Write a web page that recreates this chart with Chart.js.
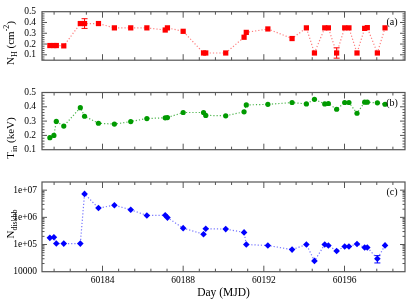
<!DOCTYPE html>
<html>
<head>
<meta charset="utf-8">
<script src="https://cdn.jsdelivr.net/npm/chart.js@4.4.0/dist/chart.umd.min.js"></script>
<style>
  body { margin: 0; background: #fff; }
  #wrap { position: relative; width: 409px; height: 304px; }
  #wrap canvas { position: absolute; left: 0; top: 0; }
</style>
</head>
<body>
<div id="wrap">
  <canvas id="ca" width="409" height="304"></canvas>
  <canvas id="cb" width="409" height="304"></canvas>
  <canvas id="cc" width="409" height="304"></canvas>
</div>
<script>
// observation days (MJD), shared by all three panels
var days = [60181.39, 60181.59, 60181.71, 60182.08, 60182.90, 60183.11, 60183.80, 60184.59,
  60185.40, 60186.20, 60187.11, 60187.22, 60188.00, 60189.01, 60189.12, 60190.11,
  60191.02, 60191.13, 60192.20, 60193.40, 60194.11, 60194.51, 60195.02, 60195.20,
  60195.61, 60196.01, 60196.22, 60196.62, 60197.00, 60197.13, 60197.63, 60198.01];

// (a) column density
var nh = [0.186, 0.186, 0.186, 0.183, 0.39, 0.39, 0.39, 0.35, 0.35, 0.35, 0.33, 0.35, 0.318,
  0.117, 0.117, 0.117, 0.263, 0.308, 0.34, 0.251, 0.35, 0.117, 0.35, 0.35, 0.117, 0.35,
  0.35, 0.117, 0.345, 0.352, 0.117, 0.35];
var nhErr = [0.003, 0.003, 0.003, 0.012, 0.012, 0.045, 0.004, 0.003, 0.003, 0.003, 0.003, 0.004,
  0.003, 0.002, 0.002, 0.002, 0.004, 0.004, 0.004, 0.004, 0.003, 0.003, 0.003, 0.003, 0.048,
  0.003, 0.003, 0.002, 0.003, 0.003, 0.002, 0.003];

// (b) inner disk temperature
var tin = [0.184, 0.200, 0.298, 0.265, 0.394, 0.334, 0.285, 0.279, 0.297, 0.318, 0.323, 0.325,
  0.360, 0.360, 0.340, 0.337, 0.365, 0.413, 0.417, 0.430, 0.420, 0.452, 0.420, 0.423, 0.383,
  0.430, 0.430, 0.355, 0.432, 0.432, 0.428, 0.418];
var tinErr = [0.004, 0.012, 0.017, 0.004, 0.004, 0.004, 0.004, 0.003, 0.003, 0.003, 0.003, 0.003,
  0.004, 0.003, 0.003, 0.004, 0.004, 0.004, 0.004, 0.008, 0.004, 0.004, 0.004, 0.004, 0.004,
  0.004, 0.004, 0.004, 0.004, 0.004, 0.004, 0.004];

// (c) diskbb normalisation
var norm = [1.76e5, 1.85e5, 1.09e5, 1.08e5, 1.08e5, 7.3e6, 2.2e6, 2.8e6, 1.9e6, 1.17e6, 1.2e6,
  9.8e5, 4.0e5, 2.4e5, 3.8e5, 3.7e5, 2.8e5, 1.0e5, 9.2e4, 6.5e4, 1.0e5, 2.5e4, 1.0e5, 9.2e4,
  5.8e4, 8.5e4, 8.5e4, 1.05e5, 7.8e4, 7.8e4, 3.0e4, 9.3e4];
var normErr = [6e3, 6e3, 4e3, 4e3, 4e3, 3e5, 8e4, 1e5, 7e4, 4e4, 4e4, 4e4, 1.5e4, 9e3, 1.4e4,
  1.4e4, 1e4, 4e3, 4e3, 3e3, 4e3, 1.5e3, 4e3, 4e3, 3e3, 3e3, 3e3, 4e3, 3e3, 3e3, 9e3, 4e3];

var dayTicks = [60184, 60188, 60192, 60196];
var linTicks = [0.1, 0.2, 0.3, 0.4, 0.5];
var logTicks = [1e4, 1e5, 1e6, 1e7];

Chart.defaults.font.family = '"Liberation Serif", "Times New Roman", serif';
Chart.defaults.color = '#000';

var FRAME = '#555';

function pts(ys) {
  return days.map(function (d, i) { return { x: d, y: ys[i] }; });
}

// error bars, drawn through the scales
var errPlugin = {
  id: 'errbars',
  beforeDatasetsDraw: function (chart) {
    var ctx = chart.ctx, ys = chart.scales.y;
    chart.data.datasets.forEach(function (ds, di) {
      if (!ds.err) return;
      var meta = chart.getDatasetMeta(di);
      ctx.save();
      ctx.strokeStyle = ds.errColor;
      ctx.lineWidth = 1;
      meta.data.forEach(function (el, i) {
        var v = ds.data[i].y, e = ds.err[i];
        var y1 = ys.getPixelForValue(v - e), y2 = ys.getPixelForValue(v + e);
        if (Math.abs(y1 - y2) < 5) return;
        ctx.beginPath();
        ctx.moveTo(el.x, y1); ctx.lineTo(el.x, y2);
        ctx.moveTo(el.x - 3, y1); ctx.lineTo(el.x + 3, y1);
        ctx.moveTo(el.x - 3, y2); ctx.lineTo(el.x + 3, y2);
        ctx.stroke();
      });
      ctx.restore();
    });
  }
};

// frame with inward ticks, panel letter and y title
var framePlugin = {
  id: 'frame',
  afterDatasetsDraw: function (chart, args, o) {
    var ctx = chart.ctx, a = chart.chartArea;
    var xs = chart.scales.x, ys = chart.scales.y;
    ctx.save();
    ctx.strokeStyle = FRAME;
    ctx.lineWidth = 1.2;
    ctx.strokeRect(a.left, a.top, a.right - a.left, a.bottom - a.top);
    ctx.lineWidth = 1;
    ctx.beginPath();
    // x ticks, major every 4 d, minor every 0.8 d
    for (var k = -3; k <= 18; k++) {
      var v = 60184 + k * 0.8;
      if (v <= xs.min || v >= xs.max) continue;
      var px = xs.getPixelForValue(v);
      var len = (k % 5 === 0) ? 6 : 3;
      ctx.moveTo(px, a.bottom); ctx.lineTo(px, a.bottom - len);
      ctx.moveTo(px, a.top); ctx.lineTo(px, a.top + len);
    }
    // y ticks
    var yt = [];
    if (o.log) {
      for (var e = 1e4; e <= 1e7; e *= 10) {
        for (var m = 1; m <= 9; m++) yt.push({ v: m * e, major: m === 1 });
      }
    } else {
      for (var j = 0; j <= 25; j++) {
        var vv = Math.round(j * 2) / 100;
        yt.push({ v: vv, major: j % 5 === 0 });
      }
    }
    yt.forEach(function (t) {
      if (t.v <= ys.min || t.v >= ys.max) return;
      var py = ys.getPixelForValue(t.v);
      var len = t.major ? 5 : 2.5;
      ctx.moveTo(a.left, py); ctx.lineTo(a.left + len, py);
      ctx.moveTo(a.right, py); ctx.lineTo(a.right - len, py);
    });
    ctx.stroke();

    // panel letter
    ctx.fillStyle = '#000';
    ctx.font = '10px "Liberation Serif"';
    ctx.textAlign = 'center';
    ctx.textBaseline = 'middle';
    ctx.fillText(o.label, a.right - 13, a.top + 10.5);

    // rotated y title with sub/superscripts
    var size = 11;
    ctx.translate(14, o.cy);
    ctx.rotate(-Math.PI / 2);
    ctx.textAlign = 'left';
    ctx.textBaseline = 'alphabetic';
    var w = 0;
    o.title.forEach(function (p) {
      ctx.font = ((p.sub || p.sup) ? size * 0.72 : size) + 'px "Liberation Serif"';
      p.w = ctx.measureText(p.t).width;
      w += p.w;
    });
    var cx = -w / 2;
    o.title.forEach(function (p) {
      ctx.font = ((p.sub || p.sup) ? size * 0.72 : size) + 'px "Liberation Serif"';
      var dy = p.sub ? size * 0.3 : (p.sup ? -size * 0.42 : 0);
      ctx.fillText(p.t, cx, dy);
      cx += p.w;
    });
    ctx.restore();
  }
};

function makePanel(id, ys, err, color, lineColor, style, radius, yScale, top, bottom, frameOpts, showX) {
  var xScale = {
    type: 'linear', min: 60181, max: 60199,
    display: showX,
    grid: { display: false, drawTicks: false },
    border: { display: false },
    afterBuildTicks: function (s) { s.ticks = dayTicks.map(function (v) { return { value: v }; }); },
    afterFit: function (s) { s.height = 32.3; },
    ticks: { autoSkip: false, maxRotation: 0, padding: 3, font: { size: 9.5 },
      callback: function (v) { return String(v); } },
    title: { display: true, text: 'Day (MJD)', font: { size: 11.5 }, padding: { top: 0, bottom: 4 } }
  };
  yScale.grid = { display: false, drawTicks: false };
  yScale.border = { display: false };
  yScale.afterFit = function (s) { s.width = 42; };
  return new Chart(document.getElementById(id), {
    type: 'line',
    data: {
      datasets: [{
        data: pts(ys), err: err, errColor: color,
        borderColor: lineColor, borderWidth: 1.2, borderDash: [1.2, 2],
        pointStyle: style, pointRadius: radius, pointBackgroundColor: color,
        pointBorderColor: color, pointBorderWidth: 0, tension: 0, clip: false
      }]
    },
    options: {
      responsive: false, animation: false, devicePixelRatio: 1,
      layout: { padding: { left: 0, right: 3, top: top, bottom: showX ? 0 : 304 - bottom } },
      plugins: { legend: { display: false }, tooltip: { enabled: false }, frame: frameOpts },
      scales: { x: xScale, y: yScale }
    },
    plugins: [errPlugin, framePlugin]
  });
}

function linY(min) {
  return {
    type: 'linear', min: min, max: 0.5,
    afterBuildTicks: function (s) { s.ticks = linTicks.map(function (v) { return { value: v }; }); },
    ticks: { autoSkip: false, padding: 6, font: { size: 9.5 }, callback: function (v) { return v.toFixed(1); } }
  };
}

makePanel('ca', nh, nhErr, '#ff0000', 'rgba(255,70,70,0.7)', 'rect', 3.7, linY(0.05), 4.7, 92.5,
  { label: '(a)', cy: 43, title: [{ t: 'N' }, { t: 'H', sub: true }, { t: ' (cm' }, { t: '-2', sup: true }, { t: ')' }] }, false);

makePanel('cb', tin, tinErr, '#009a00', 'rgba(0,150,0,0.7)', 'circle', 2.6, linY(0.1), 92.5, 182,
  { label: '(b)', cy: 138, title: [{ t: 'T' }, { t: 'in', sub: true }, { t: ' (keV)' }] }, false);

makePanel('cc', norm, normErr, '#0000ff', 'rgba(60,60,255,0.7)', 'rectRot', 3.3,
  {
    type: 'logarithmic', min: 1e4, max: 2e7,
    afterBuildTicks: function (s) { s.ticks = logTicks.map(function (v) { return { value: v }; }); },
    ticks: { autoSkip: false, padding: 5, font: { size: 9.5 },
      callback: function (v) {
        if (v < 1e5) return String(v);
        return '1e+0' + Math.round(Math.log10(v));
      } }
  }, 182, 271.7,
  { label: '(c)', cy: 224, log: true, title: [{ t: 'N' }, { t: 'diskbb', sub: true }] }, true);
</script>
</body>
</html>
